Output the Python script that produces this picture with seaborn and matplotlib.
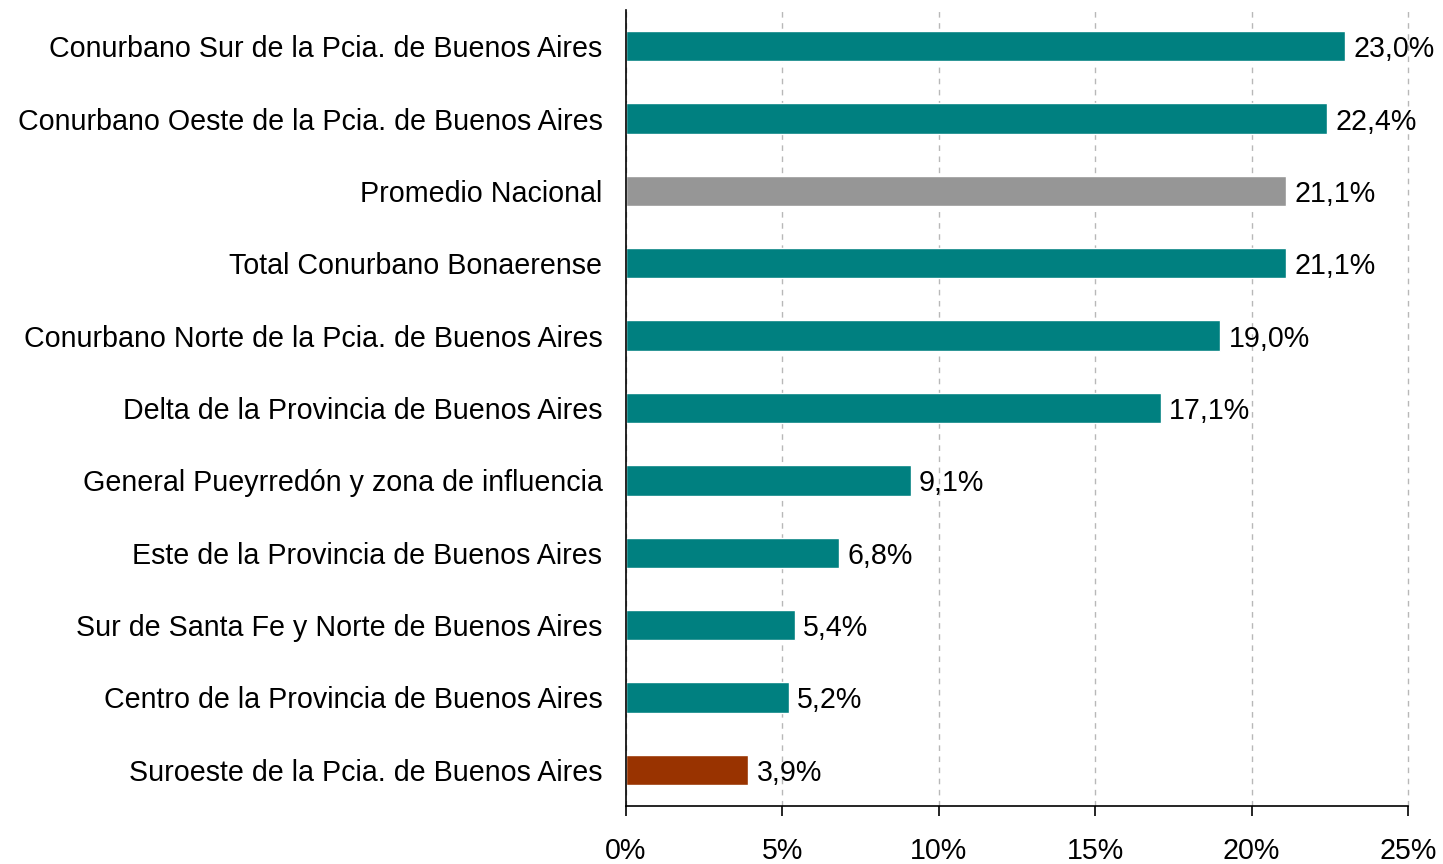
import matplotlib
matplotlib.use("Agg")
import matplotlib.pyplot as plt
import seaborn as sns
import pandas as pd
from matplotlib.ticker import FuncFormatter

categories = [
    "Conurbano Sur de la Pcia. de Buenos Aires",
    "Conurbano Oeste de la Pcia. de Buenos Aires",
    "Promedio Nacional",
    "Total Conurbano Bonaerense",
    "Conurbano Norte de la Pcia. de Buenos Aires",
    "Delta de la Provincia de Buenos Aires",
    "General Pueyrredón y zona de influencia",
    "Este de la Provincia de Buenos Aires",
    "Sur de Santa Fe y Norte de Buenos Aires",
    "Centro de la Provincia de Buenos Aires",
    "Suroeste de la Pcia. de Buenos Aires",
]
values = [23.0, 22.4, 21.1, 21.1, 19.0, 17.1, 9.1, 6.8, 5.4, 5.2, 3.9]
value_labels = ["23,0%", "22,4%", "21,1%", "21,1%", "19,0%", "17,1%", "9,1%", "6,8%", "5,4%", "5,2%", "3,9%"]
colors = ["#008080", "#008080", "#969696", "#008080", "#008080", "#008080",
          "#008080", "#008080", "#008080", "#008080", "#993300"]

sns.set_style("white")
plt.rcParams['font.family'] = ['Liberation Sans', 'DejaVu Sans']
plt.rcParams['text.color'] = 'black'
plt.rcParams['xtick.color'] = 'black'
plt.rcParams['ytick.color'] = 'black'

df = pd.DataFrame({"cat": categories, "val": values})

fig = plt.figure(figsize=(14.43, 8.64), dpi=100)
ax = fig.add_axes([626/1443, 1 - 806/864, (1408-626)/1443, (806-10)/864])

sns.barplot(data=df, y="cat", x="val", hue="cat", palette=colors, legend=False,
            width=0.42, orient="h", ax=ax, saturation=1)

FS = 20.6
for i, (v, lab) in enumerate(zip(values, value_labels)):
    ax.text(v + 0.27, i, lab, va="center_baseline", ha="left", fontsize=FS, color="black")

ax.set_xlim(0, 25)
ax.set_ylim(10.5, -0.5)
ax.set_xticks([0, 5, 10, 15, 20, 25])
ax.xaxis.set_major_formatter(FuncFormatter(lambda x, p: f"{int(x)}%"))
ax.set_xlabel("")
ax.set_ylabel("")
ax.xaxis.grid(True, linestyle=(0, (4, 4)), color="#b8b8b8", linewidth=1)
for gl in ax.get_xgridlines():
    gl.set_clip_on(False)
ax.set_axisbelow(True)
for s in ["top", "right"]:
    ax.spines[s].set_visible(False)
for s in ["left", "bottom"]:
    ax.spines[s].set_color("black")
    ax.spines[s].set_linewidth(1.2)
ax.tick_params(axis="x", which="both", direction="out", length=7.5, width=1.2,
               color="black", labelsize=FS, pad=15, bottom=True)
ax.tick_params(axis="y", length=0, labelsize=FS, pad=17)

fig.savefig("out.png", dpi=100)
